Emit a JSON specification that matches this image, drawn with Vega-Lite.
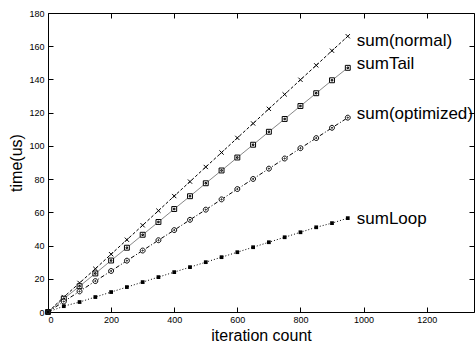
{
  "$schema": "https://vega.github.io/schema/vega-lite/v6.json",
  "width": 426,
  "height": 299,
  "autosize": {"type": "none"},
  "padding": {"left": 48, "top": 13, "right": 1, "bottom": 32},
  "background": "white",
  "config": {
    "view": {"stroke": "black", "strokeWidth": 1},
    "font": "Liberation Sans",
    "axis": {
      "grid": false, "domain": false, "tickColor": "black", "tickSize": -5,
      "labelFont": "Liberation Sans", "labelFontSize": 9, "labelColor": "black",
      "titleFont": "Liberation Sans", "titleFontSize": 16, "titleFontWeight": "normal", "titleColor": "black"
    }
  },
  "datasets": {
    "pts": [
      {"s": "sum(normal)", "x": 0, "y": 0}, {"s": "sum(normal)", "x": 50, "y": 9}, {"s": "sum(normal)", "x": 100, "y": 17.5}, {"s": "sum(normal)", "x": 150, "y": 26}, {"s": "sum(normal)", "x": 200, "y": 34.8}, {"s": "sum(normal)", "x": 250, "y": 43.5}, {"s": "sum(normal)", "x": 300, "y": 52.2}, {"s": "sum(normal)", "x": 350, "y": 61}, {"s": "sum(normal)", "x": 400, "y": 69.8}, {"s": "sum(normal)", "x": 450, "y": 78.5}, {"s": "sum(normal)", "x": 500, "y": 87.3}, {"s": "sum(normal)", "x": 550, "y": 96}, {"s": "sum(normal)", "x": 600, "y": 104.8}, {"s": "sum(normal)", "x": 650, "y": 113.5}, {"s": "sum(normal)", "x": 700, "y": 122.3}, {"s": "sum(normal)", "x": 750, "y": 131}, {"s": "sum(normal)", "x": 800, "y": 139.8}, {"s": "sum(normal)", "x": 850, "y": 148.5}, {"s": "sum(normal)", "x": 900, "y": 157.3}, {"s": "sum(normal)", "x": 950, "y": 166},
      {"s": "sumTail", "x": 0, "y": 0}, {"s": "sumTail", "x": 50, "y": 8}, {"s": "sumTail", "x": 100, "y": 15.5}, {"s": "sumTail", "x": 150, "y": 23.2}, {"s": "sumTail", "x": 200, "y": 31}, {"s": "sumTail", "x": 250, "y": 38.7}, {"s": "sumTail", "x": 300, "y": 46.5}, {"s": "sumTail", "x": 350, "y": 54.2}, {"s": "sumTail", "x": 400, "y": 62}, {"s": "sumTail", "x": 450, "y": 69.7}, {"s": "sumTail", "x": 500, "y": 77.5}, {"s": "sumTail", "x": 550, "y": 85.2}, {"s": "sumTail", "x": 600, "y": 93}, {"s": "sumTail", "x": 650, "y": 100.7}, {"s": "sumTail", "x": 700, "y": 108.5}, {"s": "sumTail", "x": 750, "y": 116.2}, {"s": "sumTail", "x": 800, "y": 124}, {"s": "sumTail", "x": 850, "y": 131.7}, {"s": "sumTail", "x": 900, "y": 139.5}, {"s": "sumTail", "x": 950, "y": 147},
      {"s": "sum(optimized)", "x": 0, "y": 0}, {"s": "sum(optimized)", "x": 50, "y": 6.3}, {"s": "sum(optimized)", "x": 100, "y": 12.4}, {"s": "sum(optimized)", "x": 150, "y": 18.6}, {"s": "sum(optimized)", "x": 200, "y": 24.7}, {"s": "sum(optimized)", "x": 250, "y": 30.9}, {"s": "sum(optimized)", "x": 300, "y": 37}, {"s": "sum(optimized)", "x": 350, "y": 43.2}, {"s": "sum(optimized)", "x": 400, "y": 49.3}, {"s": "sum(optimized)", "x": 450, "y": 55.5}, {"s": "sum(optimized)", "x": 500, "y": 61.6}, {"s": "sum(optimized)", "x": 550, "y": 67.8}, {"s": "sum(optimized)", "x": 600, "y": 74}, {"s": "sum(optimized)", "x": 650, "y": 80.1}, {"s": "sum(optimized)", "x": 700, "y": 86.3}, {"s": "sum(optimized)", "x": 750, "y": 92.4}, {"s": "sum(optimized)", "x": 800, "y": 98.6}, {"s": "sum(optimized)", "x": 850, "y": 104.7}, {"s": "sum(optimized)", "x": 900, "y": 110.9}, {"s": "sum(optimized)", "x": 950, "y": 117},
      {"s": "sumLoop", "x": 0, "y": 0}, {"s": "sumLoop", "x": 50, "y": 3.5}, {"s": "sumLoop", "x": 100, "y": 6}, {"s": "sumLoop", "x": 150, "y": 9}, {"s": "sumLoop", "x": 200, "y": 12}, {"s": "sumLoop", "x": 250, "y": 15}, {"s": "sumLoop", "x": 300, "y": 18}, {"s": "sumLoop", "x": 350, "y": 21}, {"s": "sumLoop", "x": 400, "y": 24}, {"s": "sumLoop", "x": 450, "y": 27}, {"s": "sumLoop", "x": 500, "y": 30}, {"s": "sumLoop", "x": 550, "y": 33}, {"s": "sumLoop", "x": 600, "y": 36}, {"s": "sumLoop", "x": 650, "y": 39}, {"s": "sumLoop", "x": 700, "y": 42}, {"s": "sumLoop", "x": 750, "y": 45}, {"s": "sumLoop", "x": 800, "y": 48}, {"s": "sumLoop", "x": 850, "y": 51}, {"s": "sumLoop", "x": 900, "y": 53.5}, {"s": "sumLoop", "x": 950, "y": 56.5}
    ]
  },
  "data": {"name": "pts"},
  "encoding": {
    "x": {"field": "x", "type": "quantitative", "scale": {"domain": [0, 1350], "nice": false}, "axis": null},
    "y": {"field": "y", "type": "quantitative", "scale": {"domain": [0, 180], "nice": false}, "axis": null}
  },
  "resolve": {"axis": {"x": "independent", "y": "independent"}},
  "layer": [
    {
      "transform": [{"filter": "datum.s === 'sum(normal)'"}],
      "mark": {"type": "line", "color": "black", "strokeWidth": 1, "strokeDash": [3, 2]},
      "encoding": {
        "x": {"field": "x", "type": "quantitative", "axis": {"orient": "bottom", "format": "d", "values": [0, 200, 400, 600, 800, 1000, 1200], "title": "iteration count", "labelPadding": 8, "titlePadding": 3}},
        "y": {"field": "y", "type": "quantitative", "axis": {"orient": "left", "values": [0, 20, 40, 60, 80, 100, 120, 140, 160, 180], "title": "time(us)", "labelPadding": 9, "titlePadding": 4}}
      }
    },
    {
      "transform": [{"filter": "datum.s === 'sum(normal)'"}],
      "mark": {"type": "point", "shape": "M-1,-1L1,1M-1,1L1,-1", "filled": false, "color": "black", "size": 18, "strokeWidth": 1, "opacity": 1},
      "encoding": {
        "x": {"field": "x", "type": "quantitative", "axis": {"orient": "top", "labels": false, "title": null, "values": [0, 200, 400, 600, 800, 1000, 1200]}},
        "y": {"field": "y", "type": "quantitative", "axis": {"orient": "right", "labels": false, "title": null, "values": [0, 20, 40, 60, 80, 100, 120, 140, 160, 180]}}
      }
    },
    {
      "transform": [{"filter": "datum.s === 'sumTail'"}],
      "mark": {"type": "line", "color": "#888888", "strokeWidth": 1},
      "encoding": {}
    },
    {
      "transform": [{"filter": "datum.s === 'sumTail'"}],
      "mark": {"type": "point", "shape": "M-1,-1H1V1H-1Z M-0.3,-0.3H0.3V0.3H-0.3Z", "filled": false, "fill": "white", "color": "black", "size": 24, "strokeWidth": 1, "opacity": 1}
    },
    {
      "transform": [{"filter": "datum.s === 'sum(optimized)'"}],
      "mark": {"type": "line", "color": "black", "strokeWidth": 1, "strokeDash": [4, 2, 1, 2]},
      "encoding": {}
    },
    {
      "transform": [{"filter": "datum.s === 'sum(optimized)'"}],
      "mark": {"type": "point", "shape": "M-1,0A1,1 0 1,0 1,0A1,1 0 1,0 -1,0Z M-0.25,0A0.25,0.25 0 1,0 0.25,0A0.25,0.25 0 1,0 -0.25,0Z", "filled": false, "fill": "white", "color": "black", "size": 24, "strokeWidth": 1, "opacity": 1}
    },
    {
      "transform": [{"filter": "datum.s === 'sumLoop'"}],
      "mark": {"type": "line", "color": "black", "strokeWidth": 1, "strokeDash": [1, 2]},
      "encoding": {}
    },
    {
      "transform": [{"filter": "datum.s === 'sumLoop'"}],
      "mark": {"type": "point", "shape": "square", "filled": true, "color": "black", "size": 14, "opacity": 1}
    },
    {
      "transform": [{"filter": "datum.x === 950 && datum.s === 'sum(normal)'"}],
      "mark": {"type": "text", "align": "left", "baseline": "middle", "dx": 9, "dy": 5, "fontSize": 17, "font": "Liberation Sans", "color": "black"},
      "encoding": {"text": {"field": "s"}}
    },
    {
      "transform": [{"filter": "datum.x === 950 && datum.s === 'sumTail'"}],
      "mark": {"type": "text", "align": "left", "baseline": "middle", "dx": 9, "dy": -4, "fontSize": 17, "font": "Liberation Sans", "color": "black"},
      "encoding": {"text": {"field": "s"}}
    },
    {
      "transform": [{"filter": "datum.x === 950 && datum.s === 'sum(optimized)'"}],
      "mark": {"type": "text", "align": "left", "baseline": "middle", "dx": 9, "dy": -4, "fontSize": 17, "font": "Liberation Sans", "color": "black"},
      "encoding": {"text": {"field": "s"}}
    },
    {
      "transform": [{"filter": "datum.x === 950 && datum.s === 'sumLoop'"}],
      "mark": {"type": "text", "align": "left", "baseline": "middle", "dx": 9, "dy": 1, "fontSize": 17, "font": "Liberation Sans", "color": "black"},
      "encoding": {"text": {"field": "s"}}
    }
  ]
}
